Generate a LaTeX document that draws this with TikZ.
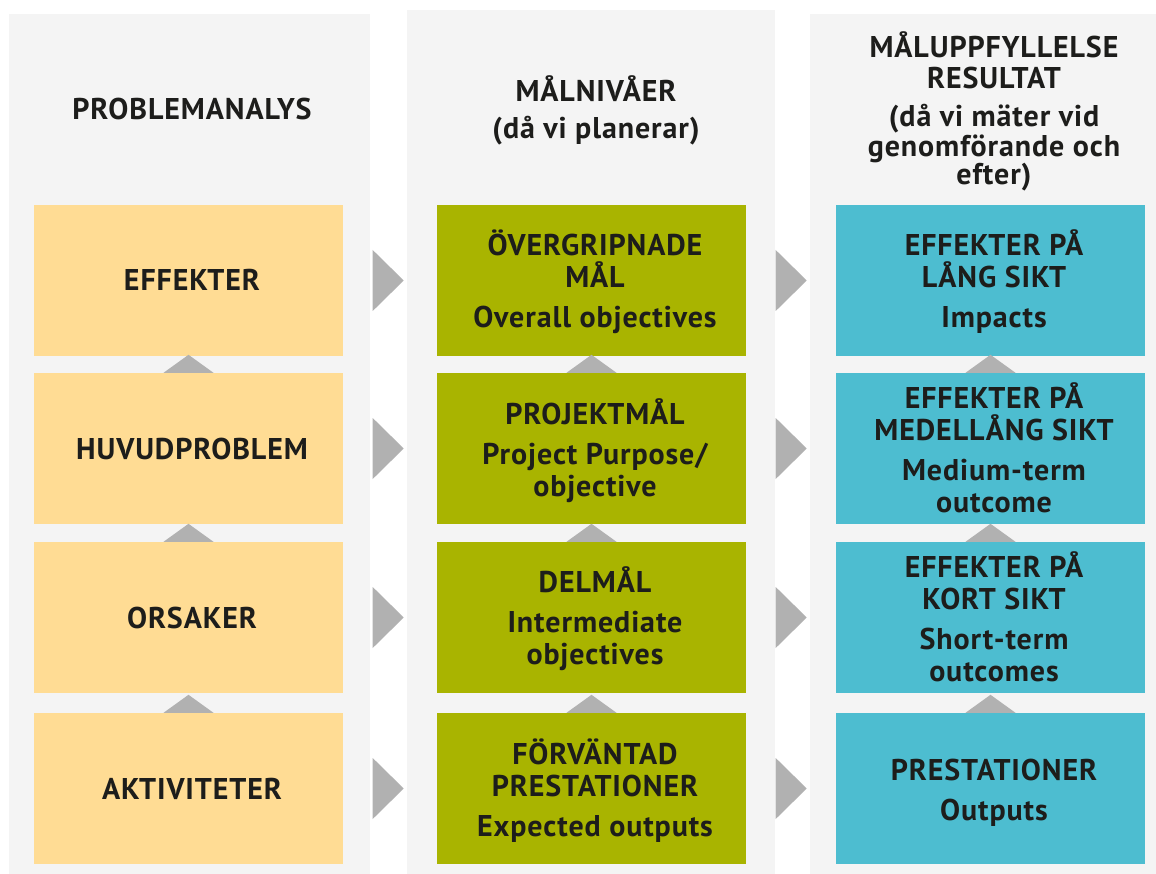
\documentclass[tikz,border=0pt]{standalone}
\usepackage{fontspec}
\setmainfont[LetterSpace=3]{PT Sans}
\usetikzlibrary{calc}
\definecolor{panel}{HTML}{F4F4F4}
\definecolor{sand}{HTML}{FFDC94}
\definecolor{olive}{HTML}{A9B400}
\definecolor{teal}{HTML}{4DBDD0}
\definecolor{pointer}{HTML}{B1B1B1}
\definecolor{ink}{HTML}{1D1D1B}
\begin{document}
\begin{tikzpicture}[x=1pt,y=-1pt,
  panelbg/.style={fill=panel,draw=none},
  card/.style={minimum width=309pt,minimum height=151pt,inner sep=0pt,draw=none},
  txt/.style={font=\fontsize{30pt}{32pt}\selectfont\bfseries,text=ink,align=center,inner sep=0pt,anchor=base},
  tip/.style={fill=pointer,draw=none}]
\useasboundingbox[fill=white] (0,0) rectangle (1156,874);

% column panels
\fill[panelbg] (9,14) rectangle (370,874);
\fill[panelbg] (407,10) rectangle (775,874);
\fill[panelbg] (810,14) rectangle (1156,874);

% column headings (anchored at the baseline of the last line)
\node[txt] (h1) at (192,120) {PROBLEMANALYS};
\node[txt] (h2) at (596,139) {MÅLNIVÅER\\[5pt](då vi planerar)};
\node[txt] (h3) at (994,185) {MÅLUPPFYLLELSE\\[-1pt]RESULTAT\\[6pt](då vi mäter vid\\[-2pt]genomförande och\\[-4pt]efter)};

% problem analysis column
\node[card,fill=sand] (a1) at (188.5,280.5) {};
\node[card,fill=sand] (a2) at (188.5,448.5) {};
\node[card,fill=sand] (a3) at (188.5,617.5) {};
\node[card,fill=sand] (a4) at (188.5,788.5) {};
\node[txt] (ta1) at (192,291) {EFFEKTER};
\node[txt] (ta2) at (192,459) {HUVUDPROBLEM};
\node[txt] (ta3) at (192,628) {ORSAKER};
\node[txt] (ta4) at (192,799) {AKTIVITETER};

% objective levels column
\node[card,fill=olive] (b1) at (591.5,280.5) {};
\node[card,fill=olive] (b2) at (591.5,448.5) {};
\node[card,fill=olive] (b3) at (591.5,617.5) {};
\node[card,fill=olive] (b4) at (591.5,788.5) {};
\node[txt] (tb1) at (595,328) {ÖVERGRIPNADE\\MÅL\\[8pt]Overall objectives};
\node[txt] (tb2) at (595,496) {PROJEKTMÅL\\[8pt]Project Purpose/\\objective};
\node[txt] (tb3) at (595,664) {DELMÅL\\[8pt]Intermediate\\objectives};
\node[txt] (tb4) at (595,836) {FÖRVÄNTAD\\PRESTATIONER\\[8pt]Expected outputs};

% results column
\node[card,fill=teal] (c1) at (990.5,280.5) {};
\node[card,fill=teal] (c2) at (990.5,448.5) {};
\node[card,fill=teal] (c3) at (990.5,617.5) {};
\node[card,fill=teal] (c4) at (990.5,788.5) {};
\node[txt] (tc1) at (994,328) {EFFEKTER PÅ\\LÅNG SIKT\\[8pt]Impacts};
\node[txt] (tc2) at (994,512) {EFFEKTER PÅ\\MEDELLÅNG SIKT\\[8pt]Medium-term\\outcome};
\node[txt] (tc3) at (994,681) {EFFEKTER PÅ\\KORT SIKT\\[8pt]Short-term\\outcomes};
\node[txt] (tc4) at (994,820) {PRESTATIONER\\[8pt]Outputs};

% upward pointers between stacked cards
\foreach \col in {a,b,c}{
  \foreach \lo/\hi in {2/1,3/2,4/3}{
    \fill[tip] ($(\col\lo.north)+(-25pt,0pt)$) -- ($(\col\lo.north)+(0pt,18pt)$) -- ($(\col\lo.north)+(25pt,0pt)$) -- cycle;
  }
}

% rightward pointers between columns
\foreach \col in {a,b}{
  \foreach \r in {1,2,3,4}{
    \fill[tip] ($(\col\r.east)+(29.5pt,30.5pt)$) -- ($(\col\r.east)+(60.5pt,0pt)$) -- ($(\col\r.east)+(29.5pt,-30.5pt)$) -- cycle;
  }
}
\end{tikzpicture}
\end{document}
